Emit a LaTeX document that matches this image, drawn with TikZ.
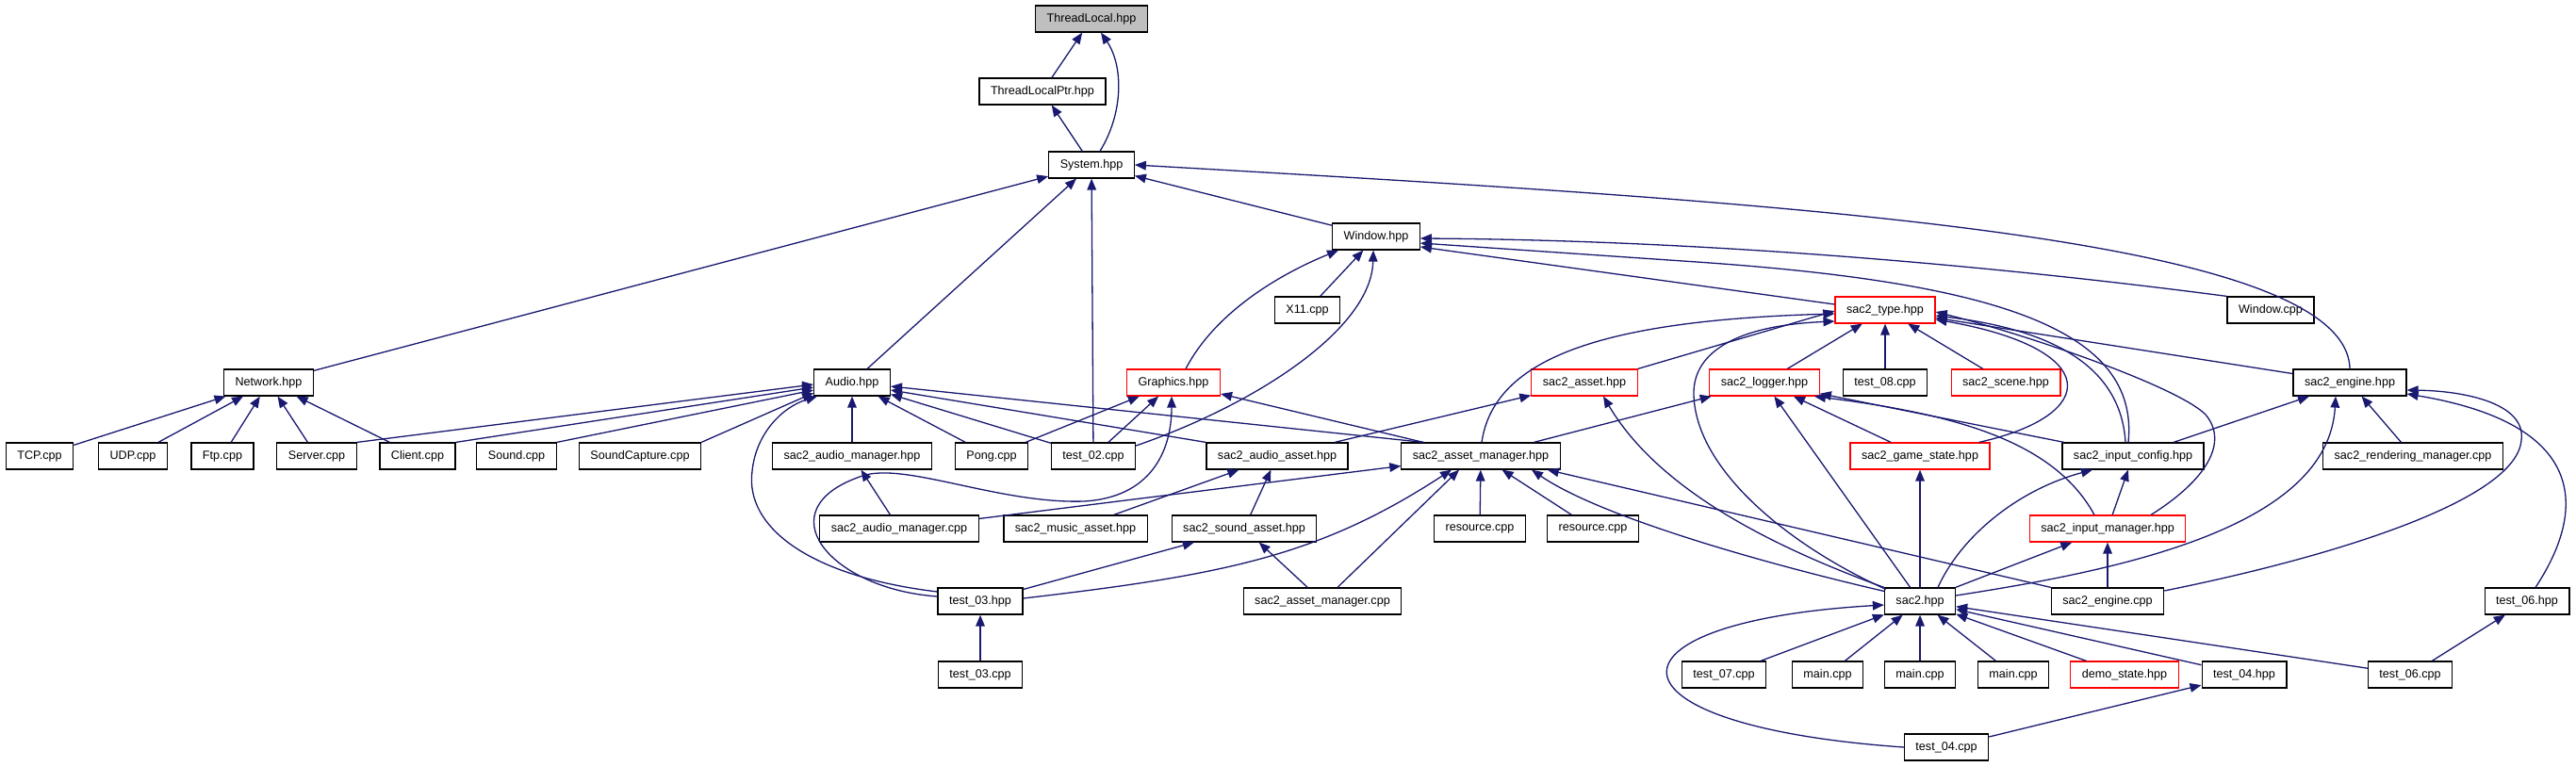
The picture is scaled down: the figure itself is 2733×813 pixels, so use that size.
\documentclass[tikz,border=0pt]{standalone}
\usepackage{fontspec}
\setmainfont{Liberation Sans}
\usetikzlibrary{arrows.meta}
\definecolor{edgeblue}{HTML}{191970}
\definecolor{rootgray}{HTML}{BFBFBF}
\begin{document}
\begin{tikzpicture}[x=0.5pt,y=-0.5pt,
  filebox/.style={draw=black,line width=0.6pt,fill=white,inner xsep=6pt,inner ysep=0pt,
    minimum height=14pt,font=\fontsize{6.3}{7}\selectfont},
  redbox/.style={filebox,draw=red},
  rootbox/.style={filebox,fill=rootgray},
  incl/.style={draw=edgeblue,line width=0.65pt,-{Triangle[length=6pt,width=4.8pt]}}]
  \useasboundingbox (0,0) rectangle (2733,813);
  \node[rootbox] (tl) at (1158,20) {ThreadLocal.hpp};
  \node[filebox] (tlp) at (1106,97) {ThreadLocalPtr.hpp};
  \node[filebox] (sys) at (1158,175) {System.hpp};
  \node[filebox] (win) at (1460,251) {Window.hpp};
  \node[filebox] (x11) at (1387,329) {X11.cpp};
  \node[redbox] (type) at (2000,329) {sac2\_type.hpp};
  \node[filebox] (wcpp) at (2409,329) {Window.cpp};
  \node[filebox] (net) at (285,406) {Network.hpp};
  \node[filebox] (audio) at (904,406) {Audio.hpp};
  \node[redbox] (gfx) at (1245,406) {Graphics.hpp};
  \node[redbox] (asset) at (1681,406) {sac2\_asset.hpp};
  \node[redbox] (logger) at (1872,406) {sac2\_logger.hpp};
  \node[filebox] (t08) at (2000,406) {test\_08.cpp};
  \node[redbox] (scene) at (2128,406) {sac2\_scene.hpp};
  \node[filebox] (engine) at (2493,406) {sac2\_engine.hpp};
  \node[filebox] (tcp) at (42,484) {TCP.cpp};
  \node[filebox] (udp) at (141,484) {UDP.cpp};
  \node[filebox] (ftp) at (236,484) {Ftp.cpp};
  \node[filebox] (server) at (336,484) {Server.cpp};
  \node[filebox] (client) at (443,484) {Client.cpp};
  \node[filebox] (sound) at (548,484) {Sound.cpp};
  \node[filebox] (capture) at (679,484) {SoundCapture.cpp};
  \node[filebox] (amh) at (904,484) {sac2\_audio\_manager.hpp};
  \node[filebox] (pong) at (1052,484) {Pong.cpp};
  \node[filebox] (t02) at (1160,484) {test\_02.cpp};
  \node[filebox] (aasset) at (1355,484) {sac2\_audio\_asset.hpp};
  \node[filebox] (amgr) at (1571,484) {sac2\_asset\_manager.hpp};
  \node[redbox] (gstate) at (2037,484) {sac2\_game\_state.hpp};
  \node[filebox] (iconf) at (2263,484) {sac2\_input\_config.hpp};
  \node[filebox] (rmgr) at (2560,484) {sac2\_rendering\_manager.cpp};
  \node[filebox] (amcpp) at (954,561) {sac2\_audio\_manager.cpp};
  \node[filebox] (music) at (1141,561) {sac2\_music\_asset.hpp};
  \node[filebox] (sasset) at (1320,561) {sac2\_sound\_asset.hpp};
  \node[filebox] (res1) at (1570,561) {resource.cpp};
  \node[filebox] (res2) at (1690,561) {resource.cpp};
  \node[redbox] (imgr) at (2236,561) {sac2\_input\_manager.hpp};
  \node[filebox] (t03h) at (1040,638) {test\_03.hpp};
  \node[filebox] (amcpp2) at (1403,638) {sac2\_asset\_manager.cpp};
  \node[filebox] (sac2) at (2037,638) {sac2.hpp};
  \node[filebox] (ecpp) at (2236,638) {sac2\_engine.cpp};
  \node[filebox] (t06h) at (2681,638) {test\_06.hpp};
  \node[filebox] (t03c) at (1040,716) {test\_03.cpp};
  \node[filebox] (t07) at (1829,716) {test\_07.cpp};
  \node[filebox] (main1) at (1939,716) {main.cpp};
  \node[filebox] (main2) at (2037,716) {main.cpp};
  \node[filebox] (main3) at (2136,716) {main.cpp};
  \node[redbox] (demo) at (2254,716) {demo\_state.hpp};
  \node[filebox] (t04h) at (2381,716) {test\_04.hpp};
  \node[filebox] (t06c) at (2557,716) {test\_06.cpp};
  \node[filebox] (t04c) at (2065,793) {test\_04.cpp};
  \draw[incl] (tlp) -- (tl);
  \draw[incl] ([shift={(9,0)}]sys.north) .. controls (1192,120) and (1192,70) .. ([shift={(10,0)}]tl.south);
  \draw[incl] (sys) -- (tlp);
  \draw[incl] (net) -- (sys);
  \draw[incl] (audio) -- (sys);
  \draw[incl] (t02) -- (sys);
  \draw[incl] (win) -- (sys);
  \draw[incl] (engine.north) .. controls (2490,250) and (1900,215) .. (sys.east);
  \draw[incl] (x11) -- (win);
  \draw[incl] ([shift={(13,0)}]gfx.north) .. controls (1290,330) and (1360,290) .. ([shift={(-40,0)}]win.south);
  \draw[incl] ([shift={(0,-11)}]t02.east) .. controls (1330,430) and (1455,350) .. ([shift={(-3,0)}]win.south);
  \draw[incl] (wcpp.north west) .. controls (2100,280) and (1800,255) .. ([shift={(0,2)}]win.east);
  \draw[incl] ([shift={(-5,0)}]iconf.north) .. controls (2270,350) and (2120,300) .. (1800,278) -- ([shift={(0,7)}]win.east);
  \draw[incl] ([shift={(0,-6)}]type.west) -- ([shift={(0,11)}]win.east);
  \foreach \n in {tcp,udp,ftp,server,client} \draw[incl] (\n) -- (net);
  \foreach \n/\dy in {server/2,client/5,sound/8,capture/11} \draw[incl] (\n.north east) -- ([shift={(0,\dy)}]audio.west);
  \draw[incl] (amh) -- (audio);
  \draw[incl] (pong) -- (audio);
  \draw[incl] (t02) -- (audio);
  \draw[incl] (aasset.north west) -- ([shift={(0,8)}]audio.east);
  \draw[incl] ([shift={(24,0)}]amgr.north west) -- ([shift={(0,4)}]audio.east);
  \draw[incl] ([shift={(0,-10)}]t03h.west) .. controls (860,612) and (790,560) .. (798,500) .. controls (802,460) and (830,432) .. ([shift={(4,0)}]audio.south west);
  \draw[incl] ([shift={(0,-5)}]t03h.west) .. controls (880,625) and (810,540) .. (915,505) .. controls (960,490) and (1060,535) .. (1150,532) .. controls (1220,528) and (1243,480) .. ([shift={(-2,0)}]gfx.south);
  \draw[incl] (pong) -- (gfx);
  \draw[incl] (t02) -- (gfx);
  \draw[incl] (amgr) -- (gfx);
  \draw[incl] (aasset) -- (asset);
  \draw[incl] (sac2.north west) .. controls (1880,580) and (1760,520) .. ([shift={(20,0)}]asset.south);
  \draw[incl] (asset.north east) -- ([shift={(0,1)}]type.west);
  \draw[incl] ([shift={(1,0)}]amgr.north) .. controls (1585,380) and (1700,340) .. ([shift={(0,4)}]type.west);
  \draw[incl] ([shift={(2,2)}]sac2.north west) .. controls (1900,580) and (1800,500) .. (1797,420) .. controls (1795,370) and (1850,345) .. ([shift={(0,12)}]type.west);
  \draw[incl] (logger) -- (type);
  \draw[incl] (t08) -- (type);
  \draw[incl] (scene) -- (type);
  \draw[incl] (engine) -- (type);
  \draw[incl] ([shift={(-12,0)}]gstate.north east) .. controls (2230,440) and (2230,370) .. ([shift={(0,10)}]type.east);
  \draw[incl] ([shift={(-8,0)}]iconf.north) .. controls (2250,390) and (2180,350) .. ([shift={(0,6)}]type.east);
  \draw[incl] ([shift={(46,0)}]imgr.north) .. controls (2340,510) and (2365,470) .. (2340,440) .. controls (2310,410) and (2150,355) .. ([shift={(0,2)}]type.east);
  \draw[incl] (amgr) -- (logger);
  \draw[incl] (sac2) -- (logger);
  \draw[incl] (gstate) -- (logger);
  \draw[incl] (iconf) -- (logger);
  \draw[incl] ([shift={(-14,0)}]imgr.north) .. controls (2180,470) and (2080,440) .. ([shift={(-6,0)}]logger.south east);
  \draw[incl] (iconf) -- (engine);
  \draw[incl] (rmgr) -- (engine);
  \draw[incl] ([shift={(0,-6)}]sac2.east) .. controls (2250,605) and (2470,560) .. ([shift={(-15,0)}]engine.south);
  \draw[incl] ([shift={(0,-11)}]ecpp.east) .. controls (2480,590) and (2670,530) .. (2675,467) .. controls (2680,430) and (2620,415) .. ([shift={(0,8)}]engine.east);
  \draw[incl] ([shift={(9,0)}]t06h.north) .. controls (2745,540) and (2745,450) .. ([shift={(0,12)}]engine.east);
  \draw[incl] (imgr) -- (iconf);
  \draw[incl] ([shift={(19,0)}]sac2.north) .. controls (2080,570) and (2140,520) .. ([shift={(-43,0)}]iconf.south);
  \draw[incl] (sac2) -- (imgr);
  \draw[incl] (ecpp) -- (imgr);
  \draw[incl] (sac2) -- (gstate);
  \foreach \n in {t07,main1,main2,main3,demo,t04h,t06c} \draw[incl] (\n) -- (sac2);
  \draw[incl] (t04c.west) .. controls (1690,770) and (1690,660) .. ([shift={(0,4)}]sac2.west);
  \draw[incl] (t04c) -- (t04h);
  \draw[incl] (t06c) -- (t06h);
  \draw[incl] (amcpp) -- (amgr);
  \draw[incl] (res1) -- (amgr);
  \draw[incl] (res2) -- (amgr);
  \draw[incl] ([shift={(16,0)}]amcpp2.north) -- ([shift={(-23,0)}]amgr.south);
  \draw[incl] ([shift={(0,-3)}]t03h.east) .. controls (1300,610) and (1400,590) .. ([shift={(-31,0)}]amgr.south);
  \draw[incl] ([shift={(0,4)}]sac2.north west) .. controls (1880,600) and (1700,550) .. ([shift={(54,0)}]amgr.south);
  \draw[incl] (ecpp.north west) -- ([shift={(-14,0)}]amgr.south east);
  \draw[incl] (amcpp) -- (amh);
  \draw[incl] (music) -- (aasset);
  \draw[incl] (sasset) -- (aasset);
  \draw[incl] (t03h) -- (sasset);
  \draw[incl] (amcpp2) -- (sasset);
  \draw[incl] (t03c) -- (t03h);
\end{tikzpicture}
\end{document}
